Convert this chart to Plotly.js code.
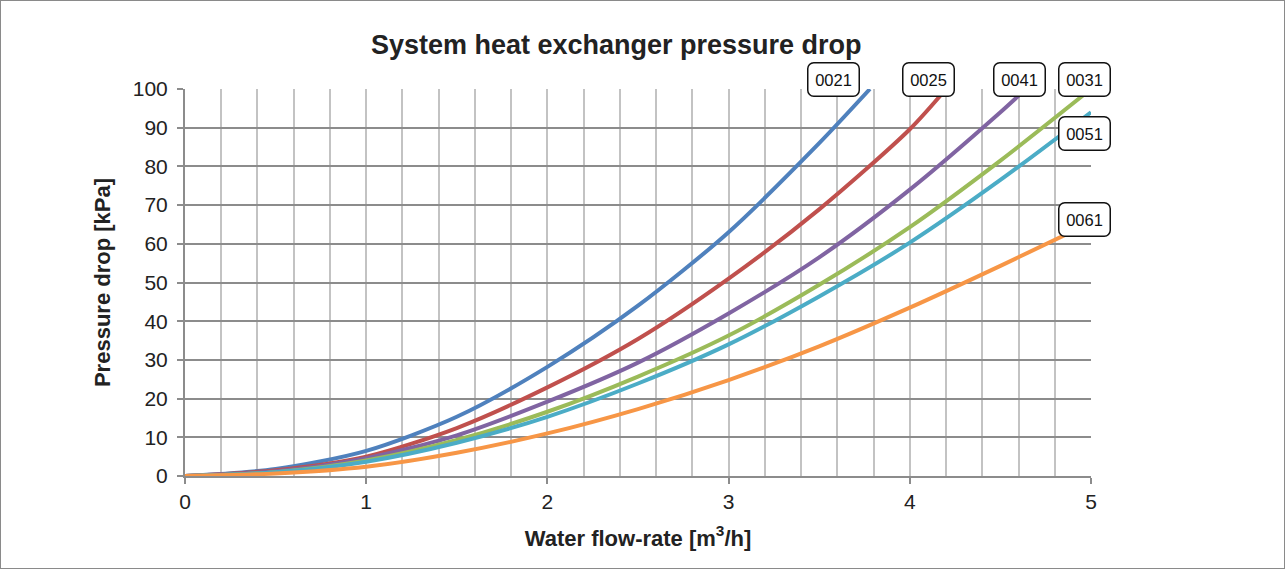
<!DOCTYPE html>
<html>
<head>
<meta charset="utf-8">
<script src="https://cdn.plot.ly/plotly-3.0.1.min.js"></script>
<style>
  html, body { margin: 0; padding: 0; background: #fff; }
  #chart { width: 1283px; height: 567px; border: 1px solid #8a8a8a; }
</style>
</head>
<body>
<div id="chart"></div>
<script>
// ---- data ----
const seriesNames = ["0021", "0025", "0041", "0031", "0051", "0061"];
const flow0021 = [0, 0.5, 1, 1.5, 2, 2.5, 3, 3.5, 3.78];
const drop0021 = [0, 1.8, 6.5, 15.3, 28.2, 44, 63, 86, 100];
const flow0025 = [0, 0.5, 1, 1.5, 2, 2.5, 3, 3.5, 4, 4.2];
const drop0025 = [0, 1.5, 5.0, 12.4, 22.9, 35.4, 51, 68.9, 89.6, 100];
const flow0041 = [0, 0.5, 1, 1.5, 2, 2.5, 3, 3.5, 4, 4.5, 4.64];
const drop0041 = [0, 1.2, 4.6, 10.5, 19.2, 29.3, 42, 56.5, 74, 94, 100];
const flow0031 = [0, 0.5, 1, 1.5, 2, 2.5, 3, 3.5, 4, 4.5, 5];
const drop0031 = [0, 1.0, 4.0, 9.3, 16.6, 25.7, 36.3, 49.4, 64.3, 81.5, 100];
const flow0051 = [0, 0.5, 1, 1.5, 2, 2.5, 3, 3.5, 4, 4.5, 5];
const drop0051 = [0, 0.95, 3.7, 8.6, 15.3, 23.9, 34, 46.4, 60.3, 76.5, 94];
const flow0061 = [0, 0.5, 1, 1.5, 2, 2.5, 3, 3.5, 4, 4.5, 5];
const drop0061 = [0, 0.65, 2.4, 6.0, 11, 17.3, 24.8, 33.5, 43.5, 54.3, 65.5];
const xTickVals = [0, 1, 2, 3, 4, 5];
const yTickVals = [0, 10, 20, 30, 40, 50, 60, 70, 80, 90, 100];

// ---- styling ----
const colors = {"0021": "#4F81BD", "0025": "#C0504D", "0041": "#8064A2",
                "0031": "#9BBB59", "0051": "#4BACC6", "0061": "#F79646"};
const labelShift = {"0021": [-36, 10], "0025": [-18, 10], "0041": [-6, 10],
                    "0031": [-7, 10], "0051": [-7, -21], "0061": [-7, 3]};
const dataMap = {
  "0021": [flow0021, drop0021], "0025": [flow0025, drop0025],
  "0041": [flow0041, drop0041], "0031": [flow0031, drop0031],
  "0051": [flow0051, drop0051], "0061": [flow0061, drop0061]
};
const font = "Liberation Sans, Arial, sans-serif";

const traces = seriesNames.map(n => ({
  type: "scatter", mode: "lines", name: n,
  x: dataMap[n][0], y: dataMap[n][1],
  line: {color: colors[n], width: 4, shape: "spline", smoothing: 0.8},
  hoverinfo: "x+y+name"
}));

const annotations = seriesNames.map(n => {
  const xs = dataMap[n][0], ys = dataMap[n][1];
  return {
    x: xs[xs.length - 1], y: ys[ys.length - 1], xref: "x", yref: "y",
    text: n, showarrow: false, xanchor: "center", yanchor: "middle",
    xshift: labelShift[n][0], yshift: labelShift[n][1],
    font: {family: font, size: 16.5, color: "#111"},
    bgcolor: "#fff", bordercolor: "#111", borderwidth: 1.5, borderpad: 5,
    width: 40, height: 22
  };
});

const layout = {
  width: 1283, height: 567,
  margin: {l: 184, r: 193, t: 88, b: 92},
  paper_bgcolor: "#fff", plot_bgcolor: "#fff",
  showlegend: false,
  font: {family: font, color: "#222"},
  title: {
    text: "<b>System heat exchanger pressure drop</b>",
    font: {family: font, size: 27, color: "#222"},
    x: 0.476, xref: "paper", xanchor: "center",
    y: 37, yref: "container", yanchor: "middle"
  },
  xaxis: {
    range: [0, 5], tickvals: xTickVals, ticktext: xTickVals.map(String),
    showgrid: true, gridcolor: "#c3c3c3", gridwidth: 2,
    minor: {dtick: 0.2, showgrid: true, gridcolor: "#c3c3c3", gridwidth: 2},
    zeroline: false, showline: true, linecolor: "#8c8c8c", linewidth: 2,
    ticks: "outside", ticklen: 6, tickwidth: 2, tickcolor: "#8c8c8c",
    tickfont: {family: font, size: 21, color: "#222"},
    title: {text: "<b>Water flow-rate [m<sup>3</sup>/h]</b>",
            font: {family: font, size: 22, color: "#222"}, standoff: 18},
    fixedrange: true
  },
  yaxis: {
    range: [0, 100], tickvals: yTickVals,
    showgrid: true, gridcolor: "#8c8c8c", gridwidth: 2,
    zeroline: false, showline: true, linecolor: "#8c8c8c", linewidth: 2,
    ticks: "outside", ticklen: 6, tickwidth: 2, tickcolor: "#8c8c8c",
    ticklabelstandoff: 5,
    tickfont: {family: font, size: 21, color: "#222"},
    title: {text: "<b>Pressure drop [kPa]</b>",
            font: {family: font, size: 22, color: "#222"}, standoff: 16},
    fixedrange: true
  },
  annotations: annotations
};

Plotly.newPlot("chart", traces, layout, {displayModeBar: false, staticPlot: true}).then(() => {
  document.querySelectorAll("#chart .annotation rect.bg").forEach(r => {
    r.setAttribute("rx", 6); r.setAttribute("ry", 6);
  });
});
</script>
</body>
</html>
